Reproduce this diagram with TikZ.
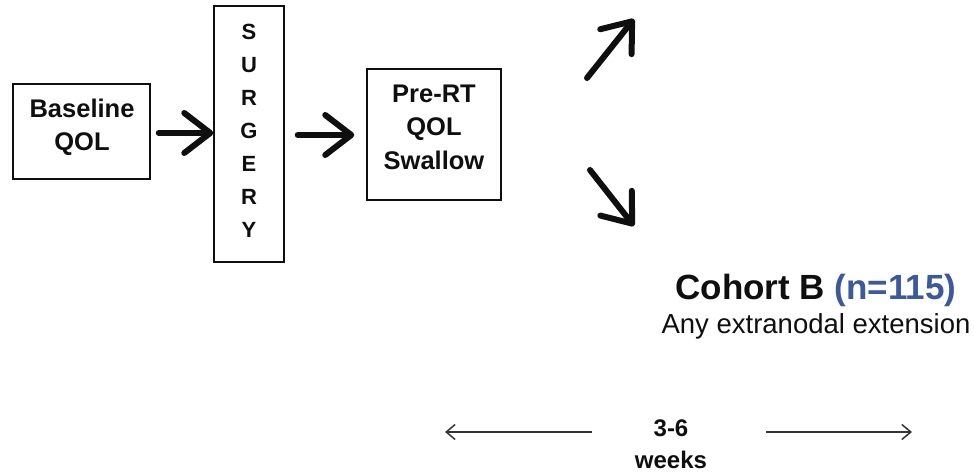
\documentclass[tikz,border=0pt]{standalone}
\usepackage{fontspec}
\setmainfont{Liberation Sans}
\usetikzlibrary{arrows.meta}
\definecolor{ink}{RGB}{15,15,15}
\definecolor{cblue}{RGB}{60,90,155}
\tikzset{
  box/.style={draw=ink, line width=1.5bp, inner sep=0pt, align=center, text=ink,
    font=\bfseries\fontsize{25.5bp}{33bp}\selectfont},
  bigarrow/.style={draw=ink, line width=6bp, line cap=round, line join=round,
    -{Straight Barb[length=26bp, width=40bp, line cap=round, line join=round]}},
  thinarrow/.style={draw=ink!85, line width=1.5bp,
    -{Straight Barb[length=9bp, width=15bp]}},
  lbl/.style={text=ink, inner sep=0pt, align=center},
}
\begin{document}
\begin{tikzpicture}[x=1bp, y=-1bp]
\useasboundingbox (0,0) rectangle (974,475);
\node[box, minimum width=137bp, minimum height=95bp] (base) at (81.5,131.5) {};
\node[lbl, font=\bfseries\fontsize{25.5bp}{33bp}\selectfont] (basetxt) at (82,127) {Baseline\\QOL};
\node[box, minimum width=70bp, minimum height=256bp] (surg) at (249,134) {};
\node[lbl, font=\bfseries\fontsize{22bp}{33bp}\selectfont] (surgtxt) at (249,131) {S\\U\\R\\G\\E\\R\\Y};
\node[box, minimum width=134bp, minimum height=131bp] (pre) at (434,134.5) {};
\node[lbl, font=\bfseries\fontsize{25.5bp}{33.5bp}\selectfont] (pretxt) at (434,127) {Pre-RT\\QOL\\Swallow};
\draw[bigarrow] ([xshift=8bp]base.east |- 0,133) -- (surg.west |- 0,133);
\draw[bigarrow] ([xshift=13bp]surg.east |- 0,135) -- ([xshift=-12bp]pre.west |- 0,135);
\coordinate (upS) at (587,78);
\coordinate (upE) at (634,19);
\coordinate (dnS) at (590,170);
\coordinate (dnE) at (634,226);
\draw[bigarrow] (upS) -- (upE);
\draw[bigarrow] (dnS) -- (dnE);
\node[lbl, font=\bfseries\fontsize{35bp}{38bp}\selectfont] (cohort) at (816,290) {Cohort B \textcolor{cblue}{(n=115)}};
\node[lbl, font=\fontsize{27.5bp}{30bp}\selectfont] (ext) at (816,326) {Any extranodal extension};
\node[lbl, font=\bfseries\fontsize{24bp}{32bp}\selectfont] (weeks) at (671,444) {3-6\\weeks};
\coordinate (lE) at (445,432);
\coordinate (rE) at (912,432);
\draw[thinarrow] ([xshift=-43bp]weeks.west |- 0,432) -- (lE);
\draw[thinarrow] ([xshift=59bp]weeks.east |- 0,432) -- (rE);
\end{tikzpicture}
\end{document}
